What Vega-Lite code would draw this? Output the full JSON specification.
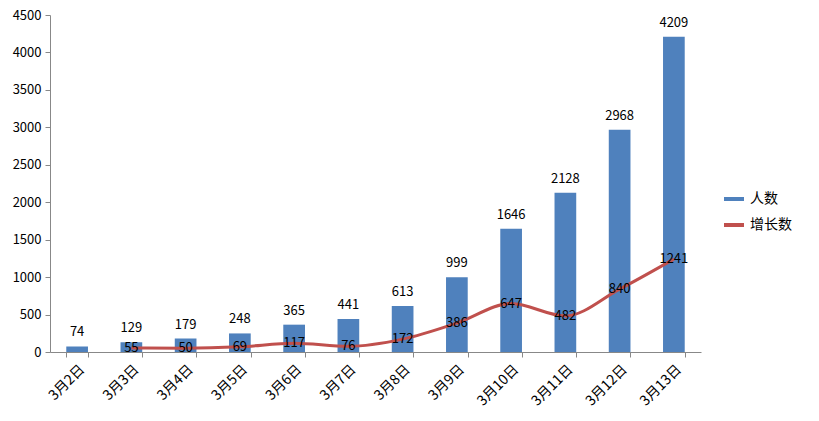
{
  "$schema": "https://vega.github.io/schema/vega-lite/v6.json",
  "width": 651,
  "height": 337,
  "autosize": {"type": "none"},
  "padding": {"left": 50, "top": 15, "right": 118, "bottom": 69},
  "background": "white",
  "config": {
    "view": {"stroke": null},
    "font": "Noto Sans CJK SC",
    "axis": {"labelFont": "Noto Sans CJK SC", "labelColor": "#000", "labelFontSize": 12, "domainColor": "#888", "tickColor": "#888", "grid": false, "title": null},
    "axisY": {"values": [0,500,1000,1500,2000,2500,3000,3500,4000,4500], "format": "d", "labelOverlap": false, "tickSize": 5, "labelPadding": 4, "labelFontSize": 13}
  },
  "data": {
    "values": [
      {"date": "3月2日", "人数": 74, "增长数": null},
      {"date": "3月3日", "人数": 129, "增长数": 55},
      {"date": "3月4日", "人数": 179, "增长数": 50},
      {"date": "3月5日", "人数": 248, "增长数": 69},
      {"date": "3月6日", "人数": 365, "增长数": 117},
      {"date": "3月7日", "人数": 441, "增长数": 76},
      {"date": "3月8日", "人数": 613, "增长数": 172},
      {"date": "3月9日", "人数": 999, "增长数": 386},
      {"date": "3月10日", "人数": 1646, "增长数": 647},
      {"date": "3月11日", "人数": 2128, "增长数": 482},
      {"date": "3月12日", "人数": 2968, "增长数": 840},
      {"date": "3月13日", "人数": 4209, "增长数": 1241}
    ]
  },
  "encoding": {
    "x": {
      "field": "date", "type": "nominal", "sort": null,
      "scale": {"paddingInner": 0.6, "paddingOuter": 0.3},
      "axis": {"labelAngle": -45, "labelAlign": "right", "labelBaseline": "top", "tickBand": "extent", "tickSize": 5, "labelPadding": 5, "labelFontSize": 14}
    }
  },
  "layer": [
    {
      "mark": {"type": "bar"},
      "encoding": {
        "y": {"field": "人数", "type": "quantitative", "scale": {"domain": [0, 4500]}, "axis": {"values": [0,500,1000,1500,2000,2500,3000,3500,4000,4500], "format": "d", "labelOverlap": false}},
        "color": {"datum": "人数", "type": "nominal", "scale": {"domain": ["人数", "增长数"], "range": ["#4F81BD", "#C0504D"]},
          "legend": {"title": null, "orient": "none", "legendX": 672, "legendY": 172, "symbolType": "stroke", "symbolStrokeWidth": 4, "symbolSize": 400, "labelFontSize": 14, "labelColor": "#000", "rowPadding": 6, "labelOffset": 4}}
      }
    },
    {
      "mark": {"type": "text", "baseline": "bottom", "dy": -7, "fontSize": 13, "color": "#000"},
      "encoding": {
        "y": {"field": "人数", "type": "quantitative", "axis": {"values": [0,500,1000,1500,2000,2500,3000,3500,4000,4500], "format": "d", "labelOverlap": false}},
        "text": {"field": "人数", "type": "quantitative"}
      }
    },
    {
      "transform": [{"filter": "datum['增长数'] != null"}],
      "mark": {"type": "line", "interpolate": "monotone", "strokeWidth": 3},
      "encoding": {
        "y": {"field": "增长数", "type": "quantitative", "axis": {"values": [0,500,1000,1500,2000,2500,3000,3500,4000,4500], "format": "d", "labelOverlap": false}},
        "color": {"datum": "增长数", "type": "nominal"}
      }
    },
    {
      "transform": [{"filter": "datum['增长数'] != null"}],
      "mark": {"type": "text", "baseline": "middle", "fontSize": 13, "color": "#000"},
      "encoding": {
        "y": {"field": "增长数", "type": "quantitative", "axis": {"values": [0,500,1000,1500,2000,2500,3000,3500,4000,4500], "format": "d", "labelOverlap": false}},
        "text": {"field": "增长数", "type": "quantitative"}
      }
    }
  ]
}
